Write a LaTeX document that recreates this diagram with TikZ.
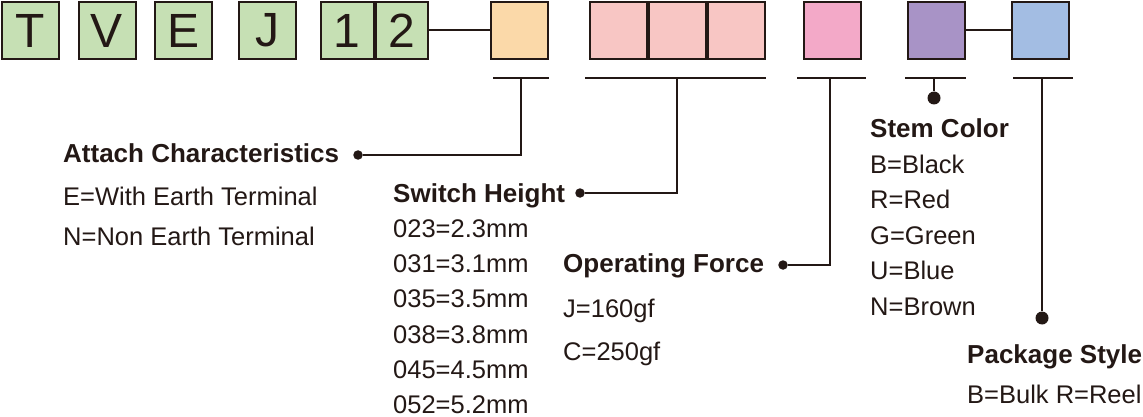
\documentclass[tikz,border=0pt]{standalone}
\usepackage{fontspec}
\setmainfont{Liberation Sans}
\usetikzlibrary{positioning}

\definecolor{ink}{HTML}{231815}
\definecolor{cgreen}{HTML}{C6E0B4}
\definecolor{corange}{HTML}{FBD9A9}
\definecolor{cpink}{HTML}{F8C6C4}
\definecolor{cmagenta}{HTML}{F3A9C8}
\definecolor{cpurple}{HTML}{A893C6}
\definecolor{cblue}{HTML}{A3BDE3}

\begin{document}
\begin{tikzpicture}[
    x=1pt, y=-1pt,
    link/.style={draw=ink, line width=2pt},
    cell/.style={
        draw=ink,
        line width=2pt,
        minimum width=57pt,
        minimum height=57pt,
        inner sep=0pt,
        text=ink,
        font=\fontsize{48}{48}\selectfont
    },
    halfcell/.style={cell, minimum width=52.5pt},
    head/.style={anchor=base west, inner sep=0pt, text=ink, font=\bfseries\fontsize{26}{30}\selectfont},
    item/.style={anchor=base west, inner sep=0pt, text=ink, font=\fontsize{25.5}{30}\selectfont},
    dot/.style={circle, fill=ink, inner sep=0pt, minimum size=9.5pt},
    bigdot/.style={dot, minimum size=13pt}
]
\useasboundingbox (0,0) rectangle (1143,417);

% part number cells
\node[cell, fill=cgreen] (ct) at (30.5,30.5) {T};
\node[cell, fill=cgreen] (cv) at (107,30.5) {V};
\node[cell, fill=cgreen] (ce) at (183.5,30.5) {E};
\node[cell, fill=cgreen] (cj) at (267.5,30.5) {J};
\node[halfcell, fill=cgreen] (cone) at (347.25,30.5) {1};
\node[halfcell, fill=cgreen] (ctwo) at (401.75,30.5) {2};
\node[cell, fill=corange] (attach) at (519.5,30.5) {};
\node[cell, fill=cpink] (height1) at (618.5,30.5) {};
\node[cell, fill=cpink] (height2) at (677.5,30.5) {};
\node[cell, fill=cpink] (height3) at (736.5,30.5) {};
\node[cell, fill=cmagenta] (force) at (832,30.5) {};
\node[cell, fill=cpurple] (stem) at (936,30.5) {};
\node[cell, fill=cblue] (pack) at (1040.5,30.5) {};

\draw[link] (ctwo) -- (attach);
\draw[link] (stem) -- (pack);

% brackets under the cells
\coordinate (tattach) at (521,78);
\coordinate (theight) at (677,78);
\coordinate (tforce) at (830,78);
\coordinate (tstem) at (934,78);
\coordinate (tpack) at (1042,78);
\draw[link] ([xshift=-28pt]tattach) -- ([xshift=28pt]tattach);
\draw[link] ([xshift=-92pt]theight) -- ([xshift=89pt]theight);
\draw[link] ([xshift=-33pt]tforce) -- ([xshift=36pt]tforce);
\draw[link] ([xshift=-29pt]tstem) -- ([xshift=32pt]tstem);
\draw[link] ([xshift=-29pt]tpack) -- ([xshift=31pt]tpack);

% legend dots
\node[dot] (dattach) at (358,155) {};
\node[dot] (dheight) at (580,193) {};
\node[dot] (dforce) at (783,265) {};
\node[bigdot] (dstem) at (934,98) {};
\node[bigdot] (dpack) at (1042,318) {};

\draw[link] (tattach) |- (dattach);
\draw[link] (theight) |- (dheight);
\draw[link] (tforce) |- (dforce);
\draw[link] (tstem) -- (dstem);
\draw[link] (tpack) -- (dpack);

% attach characteristics
\node[head] (hattach) at (63,163) {Attach Characteristics};
\node[item] (attachE) at (63,205) {E=With Earth Terminal};
\node[item] (attachN) at (63,245) {N=Non Earth Terminal};

% switch height
\node[head] (hheight) at (393,202) {Switch Height};
\node[item] (h023) at (393,237) {023=2.3mm};
\node[item] (h031) at (393,272) {031=3.1mm};
\node[item] (h035) at (393,307.5) {035=3.5mm};
\node[item] (h038) at (393,343) {038=3.8mm};
\node[item] (h045) at (393,378) {045=4.5mm};
\node[item] (h052) at (393,413) {052=5.2mm};

% operating force
\node[head] (hforce) at (563,272) {Operating Force};
\node[item] (forceJ) at (563,317) {J=160gf};
\node[item] (forceC) at (563,360) {C=250gf};

% stem color
\node[head] (hstem) at (870,138) {Stem Color};
\node[item] (stemB) at (870,173) {B=Black};
\node[item] (stemR) at (870,208) {R=Red};
\node[item] (stemG) at (870,244) {G=Green};
\node[item] (stemU) at (870,279) {U=Blue};
\node[item] (stemN) at (870,315) {N=Brown};

% package style
\node[head] (hpack) at (967,363) {Package Style};
\node[item] (packBR) at (967,403) {B=Bulk R=Reel};
\end{tikzpicture}
\end{document}
